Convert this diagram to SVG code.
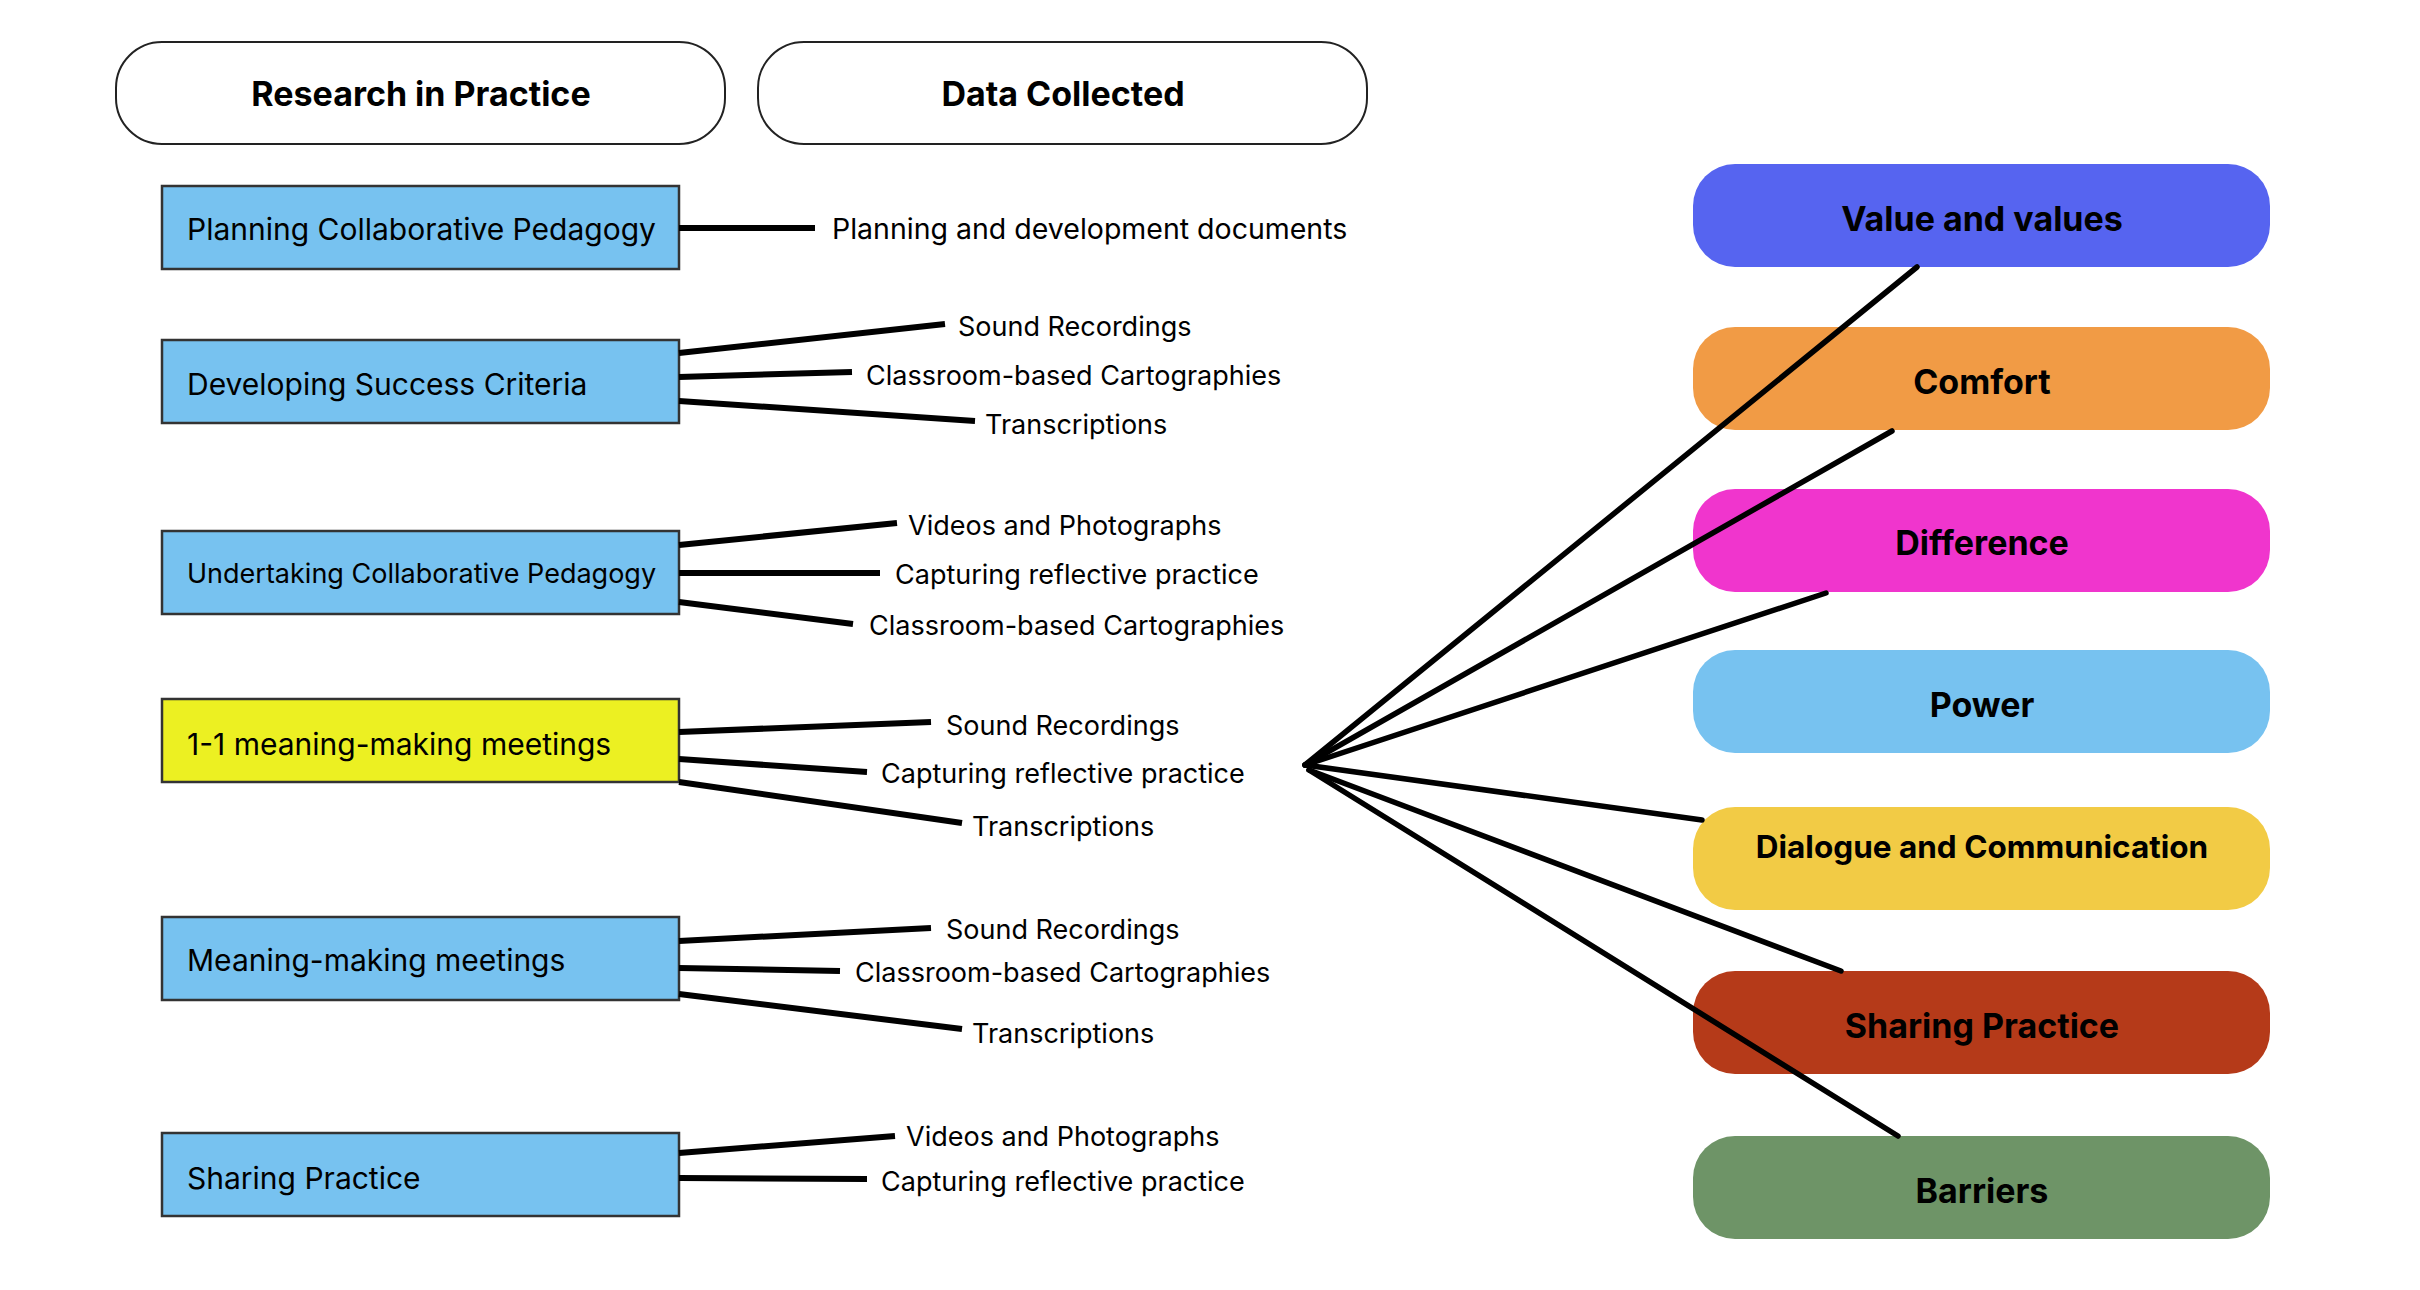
<svg xmlns="http://www.w3.org/2000/svg" width="2420" height="1290" viewBox="0 0 2420 1290">
<style>
.hdr{fill:#fff;stroke:#222;stroke-width:2}
.box{stroke:#333;stroke-width:2.5}
.blue{fill:#77C2F0}
.yel{fill:#ECF022}
.ht{font-family:Inter,"Liberation Sans",sans-serif;font-weight:700;font-size:34px;fill:#000;text-anchor:middle;dominant-baseline:central}
.bt{font-family:Inter,"Liberation Sans",sans-serif;font-size:30px;fill:#000;dominant-baseline:central}
.dt{font-family:Inter,"Liberation Sans",sans-serif;font-size:27px;fill:#000;dominant-baseline:central}
.rt{font-family:Inter,"Liberation Sans",sans-serif;font-weight:700;font-size:34px;fill:#000;text-anchor:middle;dominant-baseline:central}
.ln{stroke:#000;stroke-width:6;fill:none;stroke-linecap:butt}
.hl{stroke:#000;stroke-width:5.5;fill:none;stroke-linecap:round}
</style>
<rect width="2420" height="1290" fill="#fff"/>
<g id="header-research"><rect class="hdr" x="116" y="42" width="609" height="102" rx="46"/><text class="ht" x="421" y="93">Research in Practice</text></g>
<g id="header-data"><rect class="hdr" x="758" y="42" width="609" height="102" rx="46"/><text class="ht" x="1063" y="93">Data Collected</text></g>

<g id="n-planning"><rect class="box blue" x="162" y="186" width="517" height="83"/><text class="bt" x="187" y="229">Planning Collaborative Pedagogy</text></g>
<g id="n-developing"><rect class="box blue" x="162" y="340" width="517" height="83"/><text class="bt" x="187" y="384">Developing Success Criteria</text></g>
<g id="n-undertaking"><rect class="box blue" x="162" y="531" width="517" height="83"/><text class="bt" x="187" y="573" style="font-size:27px">Undertaking Collaborative Pedagogy</text></g>
<g id="n-oneone"><rect class="box yel" x="162" y="699" width="517" height="83"/><text class="bt" x="187" y="744">1-1 meaning-making meetings</text></g>
<g id="n-meaning"><rect class="box blue" x="162" y="917" width="517" height="83"/><text class="bt" x="187" y="960">Meaning-making meetings</text></g>
<g id="n-sharing"><rect class="box blue" x="162" y="1133" width="517" height="83"/><text class="bt" x="187" y="1178">Sharing Practice</text></g>

<g id="d-planning-docs"><text class="dt" x="832" y="228" style="font-size:28.5px">Planning and development documents</text></g>
<g id="d-dev-sound"><text class="dt" x="958" y="326">Sound Recordings</text></g>
<g id="d-dev-carto"><text class="dt" x="866" y="375">Classroom-based Cartographies</text></g>
<g id="d-dev-trans"><text class="dt" x="985" y="424">Transcriptions</text></g>
<g id="d-und-video"><text class="dt" x="908" y="525">Videos and Photographs</text></g>
<g id="d-und-capt"><text class="dt" x="895" y="574">Capturing reflective practice</text></g>
<g id="d-und-carto"><text class="dt" x="869" y="625">Classroom-based Cartographies</text></g>
<g id="d-one-sound"><text class="dt" x="946" y="725">Sound Recordings</text></g>
<g id="d-one-capt"><text class="dt" x="881" y="773">Capturing reflective practice</text></g>
<g id="d-one-trans"><text class="dt" x="972" y="826">Transcriptions</text></g>
<g id="d-mm-sound"><text class="dt" x="946" y="929">Sound Recordings</text></g>
<g id="d-mm-carto"><text class="dt" x="855" y="972">Classroom-based Cartographies</text></g>
<g id="d-mm-trans"><text class="dt" x="972" y="1033">Transcriptions</text></g>
<g id="d-sp-video"><text class="dt" x="906" y="1136">Videos and Photographs</text></g>
<g id="d-sp-capt"><text class="dt" x="881" y="1181">Capturing reflective practice</text></g>

<g id="t-value"><rect x="1693" y="164" width="577" height="103" rx="42" fill="#5664F0"/><text class="rt" x="1982" y="218">Value and values</text></g>
<g id="t-comfort"><rect x="1693" y="327" width="577" height="103" rx="42" fill="#F19B45"/><text class="rt" x="1982" y="381">Comfort</text></g>
<g id="t-difference"><rect x="1693" y="489" width="577" height="103" rx="42" fill="#F035CD"/><text class="rt" x="1982" y="542">Difference</text></g>
<g id="t-power"><rect x="1693" y="650" width="577" height="103" rx="42" fill="#77C2F0"/><text class="rt" x="1982" y="704">Power</text></g>
<g id="t-dialogue"><rect x="1693" y="807" width="577" height="103" rx="42" fill="#F2CB45"/><text class="rt" x="1982" y="846" style="font-size:31.5px">Dialogue and Communication</text></g>
<g id="t-sharing"><rect x="1693" y="971" width="577" height="103" rx="42" fill="#B53A19"/><text class="rt" x="1982" y="1025">Sharing Practice</text></g>
<g id="t-barriers"><rect x="1693" y="1136" width="577" height="103" rx="42" fill="#6E9467"/><text class="rt" x="1982" y="1190">Barriers</text></g>

<g id="connectors">
<line class="ln" x1="679" y1="228" x2="815" y2="228"/>
<line class="ln" x1="679" y1="353" x2="945" y2="324"/>
<line class="ln" x1="679" y1="377" x2="852" y2="372"/>
<line class="ln" x1="679" y1="401" x2="975" y2="421"/>
<line class="ln" x1="679" y1="545" x2="897" y2="523"/>
<line class="ln" x1="679" y1="573" x2="880" y2="573"/>
<line class="ln" x1="679" y1="602" x2="853" y2="624"/>
<line class="ln" x1="679" y1="732" x2="931" y2="722"/>
<line class="ln" x1="679" y1="759" x2="867" y2="772"/>
<line class="ln" x1="679" y1="782" x2="962" y2="823"/>
<line class="ln" x1="679" y1="941" x2="931" y2="928"/>
<line class="ln" x1="679" y1="968" x2="840" y2="971"/>
<line class="ln" x1="679" y1="994" x2="962" y2="1029"/>
<line class="ln" x1="679" y1="1153" x2="895" y2="1136"/>
<line class="ln" x1="679" y1="1178" x2="867" y2="1179"/>
<line class="hl" x1="1305" y1="765" x2="1917" y2="267"/>
<line class="hl" x1="1305" y1="765" x2="1892" y2="431"/>
<line class="hl" x1="1305" y1="765" x2="1826" y2="593"/>
<line class="hl" x1="1305" y1="765" x2="1702" y2="820"/>
<line class="hl" x1="1309" y1="770" x2="1841" y2="971"/>
<line class="hl" x1="1309" y1="770" x2="1898" y2="1136"/>
</g>
</svg>
